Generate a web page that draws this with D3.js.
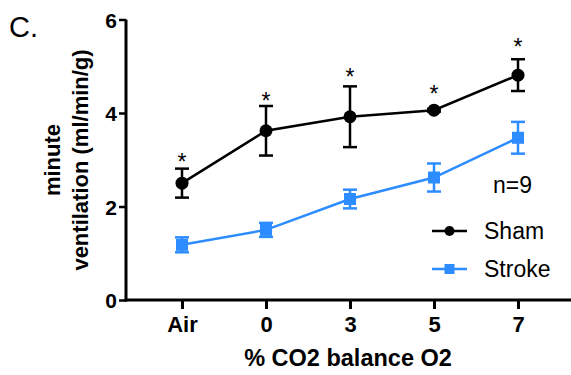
<!DOCTYPE html>
<html><head><meta charset="utf-8">
<script src="https://cdn.jsdelivr.net/npm/d3@7"></script>
<style>body{margin:0;background:#fff}svg{display:block}text{font-family:"Liberation Sans",Arial,sans-serif}</style>
</head><body><svg id="c" width="571" height="375"></svg>
<script>
const categories = ["Air","0","3","5","7"];
const shamMean = [2.50, 3.62, 3.92, 4.06, 4.81];
const shamErr  = [0.31, 0.53, 0.65, 0.03, 0.34];
const strokeMean = [1.18, 1.50, 2.16, 2.62, 3.47];
const strokeErr  = [0.16, 0.15, 0.20, 0.30, 0.34];
const starLevel = [3.07, 4.37, 4.88, 4.51, 5.53]; // where the "*" marks sit (data units)
const yTicks = [0, 2, 4, 6];

const svg = d3.select("#c");
const x = d3.scalePoint().domain(categories).range([182, 518]);
const y = d3.scaleLinear().domain([0, 6]).range([300, 19.5]);
const black = "#000", blue = "#2d8cff";

// axes
const yAxis = svg.append("g").attr("transform","translate(126,0)")
  .call(d3.axisLeft(y).tickValues(yTicks).tickSize(7).tickPadding(2).tickFormat(d3.format("d")));
yAxis.select(".domain").attr("d","M0,"+y(6)+"V"+(y(0)+1.5)).attr("stroke-width",3);
yAxis.selectAll(".tick line").attr("stroke-width",2.5);
yAxis.selectAll(".tick text").attr("font-size",21).attr("font-weight","bold").attr("fill","#000")
  .attr("dy","0.36em");

const xAxis = svg.append("g").attr("transform","translate(0,300)")
  .call(d3.axisBottom(x).tickSize(9));
xAxis.select(".domain").attr("d","M124.5,0H571").attr("stroke-width",3);
xAxis.selectAll(".tick line").attr("stroke-width",3);
xAxis.selectAll(".tick text").attr("font-size",22).attr("font-weight","bold").attr("fill","#000")
  .attr("y",32).attr("dy",0);

// labels
svg.append("text").attr("x",9).attr("y",37).attr("font-size",29).text("C.");
svg.append("text").attr("transform","translate(60,160) rotate(-90)").attr("text-anchor","middle")
  .attr("font-size",22).attr("font-weight","bold").text("minute");
svg.append("text").attr("transform","translate(88,160) rotate(-90)").attr("text-anchor","middle")
  .attr("font-size",22).attr("font-weight","bold").text("ventilation (ml/min/g)");
svg.append("text").attr("x",348).attr("y",366).attr("text-anchor","middle")
  .attr("font-size",23.5).attr("font-weight","bold").text("% CO2 balance O2");
svg.append("text").attr("x",493).attr("y",193).attr("font-size",23).text("n=9");

function series(mean, err, color, shape){
  const g = svg.append("g");
  const line = d3.line().x((d,i)=>x(categories[i])).y(d=>y(d));
  g.append("path").datum(mean).attr("d",line).attr("fill","none").attr("stroke",color).attr("stroke-width",2.5);
  mean.forEach((m,i)=>{
    const cx = x(categories[i]);
    const t = y(m+err[i]), b = y(m-err[i]);
    g.append("line").attr("x1",cx).attr("x2",cx).attr("y1",t).attr("y2",b).attr("stroke",color).attr("stroke-width",2.5);
    [t,b].forEach(v=>g.append("line").attr("x1",cx-7).attr("x2",cx+7).attr("y1",v).attr("y2",v).attr("stroke",color).attr("stroke-width",2.5));
    if(shape==="circle") g.append("circle").attr("cx",cx).attr("cy",y(m)).attr("r",6.5).attr("fill",color);
    else g.append("rect").attr("x",cx-6).attr("y",y(m)-6).attr("width",12).attr("height",12).attr("fill",color);
  });
}
series(strokeMean, strokeErr, blue, "square");
series(shamMean, shamErr, black, "circle");

// significance stars (centre of glyph at starLevel)
svg.append("g").selectAll("text").data(starLevel).join("text")
  .attr("x",(d,i)=>x(categories[i])).attr("y",d=>y(d))
  .attr("dy","0.58em")
  .attr("text-anchor","middle").attr("font-size",23).text("*");

// legend
const legend = [["Sham",black,"circle",231],["Stroke",blue,"square",269]];
legend.forEach(([name,color,shape,ly])=>{
  svg.append("line").attr("x1",432).attr("x2",467).attr("y1",ly).attr("y2",ly).attr("stroke",color).attr("stroke-width",2.5);
  if(shape==="circle") svg.append("circle").attr("cx",449.5).attr("cy",ly).attr("r",5).attr("fill",color);
  else svg.append("rect").attr("x",444.5).attr("y",ly-5).attr("width",10).attr("height",10).attr("fill",color);
  svg.append("text").attr("x",484).attr("y",ly+8).attr("font-size",23).text(name);
});
</script></body></html>
